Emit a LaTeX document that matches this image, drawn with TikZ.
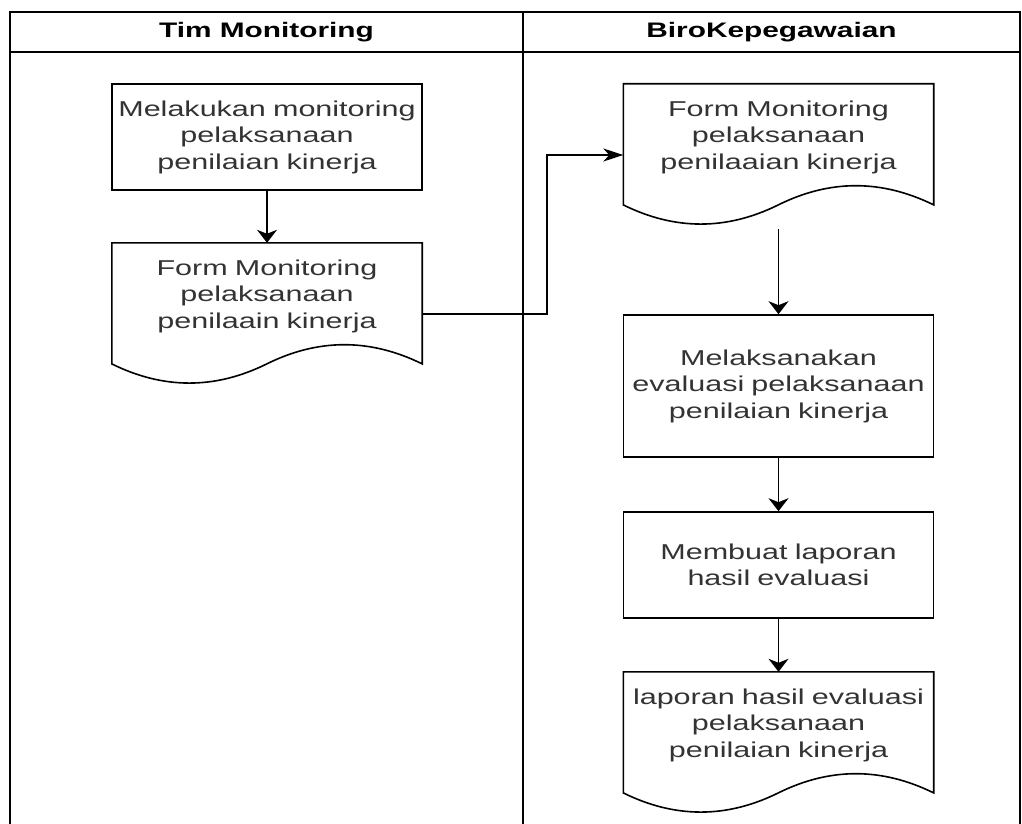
\documentclass[tikz,border=0pt]{standalone}
\usepackage{fontspec}
\usetikzlibrary{calc,arrows.meta}
\newfontfamily\wideSans{Liberation Sans}[FakeStretch=1.42]
\definecolor{inkgray}{HTML}{333333}

\tikzset{
  outline/.style={line width=1.6pt, draw=black},
  lanehead/.style={font=\wideSans\bfseries\fontsize{21}{25}\selectfont, text=black},
  stepbox/.style={outline, rectangle, minimum width=310pt, inner sep=0pt,
    text width=304pt, align=center, text=inkgray,
    font=\wideSans\fontsize{21.5}{26.5}\selectfont},
  docbox/.style={rectangle, minimum width=310pt, minimum height=142pt, inner sep=0pt},
  doctext/.style={text width=304pt, align=center, text=inkgray, inner sep=0pt,
    font=\wideSans\fontsize{21.5}{26.5}\selectfont, yshift=18pt},
  flowv/.style={line width=1.6pt, -{Stealth[length=13pt,width=20pt,inset=4pt]}},
  flowh/.style={line width=1.6pt, -{Stealth[length=20pt,width=13pt,inset=6pt]}},
}

\begin{document}
\begin{tikzpicture}[x=1pt,y=-1pt]
  \useasboundingbox (0,0) rectangle (1022,824);
  \clip (0,0) rectangle (1022,824);

  % swimlane frame
  \draw[outline] (10,840) -- (10,12) -- (1020,12) -- (1020,840);
  \draw[outline] (10,52) -- (1020,52);
  \draw[outline] (523,12) -- (523,840);
  \node[lanehead] (laneA) at (266.5,32) {Tim Monitoring};
  \node[lanehead] (laneB) at (771.5,32) {BiroKepegawaian};

  % process steps
  \node[stepbox, minimum height=106pt] (act1) at (267,137)
    {Melakukan monitoring\\pelaksanaan\\penilaian kinerja};
  \node[stepbox, minimum height=142pt] (act2) at (778.5,386)
    {Melaksanakan\\evaluasi pelaksanaan\\penilaian kinerja};
  \node[stepbox, minimum height=106pt] (act3) at (778.5,565)
    {Membuat laporan\\hasil evaluasi};

  % documents
  \node[docbox, label={[doctext]center:{Form Monitoring\\pelaksanaan\\penilaain kinerja}}]
    (doc1) at (267,314) {};
  \node[docbox, label={[doctext]center:{Form Monitoring\\pelaksanaan\\penilaaian kinerja}}]
    (doc2) at (778.5,155) {};
  \node[docbox, label={[doctext]center:{laporan hasil evaluasi\\pelaksanaan\\penilaian kinerja}}]
    (doc3) at (778.5,743) {};

  % document outlines with wavy bottom edge
  \foreach \d in {doc1,doc2,doc3}{
    \draw[outline, line join=miter]
      (\d.north west) -- (\d.north east) -- ($(\d.south east)+(0,21.3pt)$)
      .. controls ($(\d.south west)+(258.3pt,46.9pt)$) and ($(\d.south west)+(206.7pt,46.9pt)$)
      .. ($(\d.south west)+(155pt,21.3pt)$)
      .. controls ($(\d.south west)+(103.3pt,-4.26pt)$) and ($(\d.south west)+(51.7pt,-4.26pt)$)
      .. ($(\d.south west)+(0,21.3pt)$) -- cycle;
  }

  % connectors
  \coordinate (bend) at (547,0);
  \draw[flowv] (act1.south) -- (doc1.north);
  \draw[flowh] (doc1.east) -- (doc1.east -| bend) -- (doc2.west -| bend) -- (doc2.west);
  \draw[flowv] ($(doc2.south)+(0,-3pt)$) -- (act2.north);
  \draw[flowv] (act2.south) -- (act3.north);
  \draw[flowv] (act3.south) -- (doc3.north);
\end{tikzpicture}
\end{document}
